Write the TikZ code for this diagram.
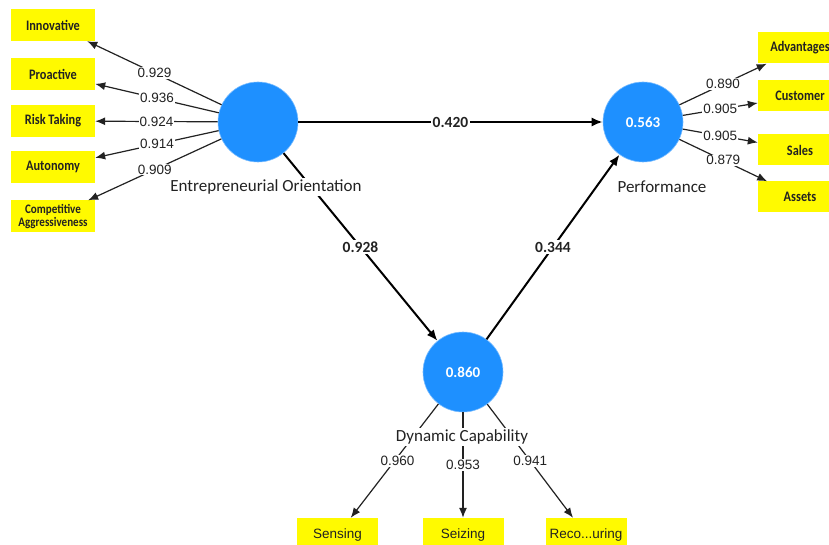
\documentclass[tikz,border=0pt]{standalone}
\usepackage{fontspec}
\setmainfont{Carlito}
\newfontfamily\boxfont[FakeStretch=0.85]{Carlito}
\newfontfamily\numfont{Liberation Sans}
\usetikzlibrary{arrows.meta}
\definecolor{lvblue}{RGB}{30,144,255}
\definecolor{boxyellow}{RGB}{255,250,0}
\definecolor{ink}{RGB}{34,34,34}
\tikzset{
  latent/.style={circle, fill=lvblue, draw=lvblue!60!white, line width=0.6pt, minimum size=80pt, inner sep=0pt, text=white, font=\fontsize{15}{15}\selectfont\bfseries},
  indbox/.style={rectangle, fill=boxyellow, inner sep=0pt, text=ink, font=\boxfont\fontsize{14.5}{14.5}\selectfont\bfseries},
  leftbox/.style={indbox, minimum width=84pt, minimum height=32pt},
  rightbox/.style={indbox, minimum width=84pt, minimum height=31pt},
  botbox/.style={rectangle, fill=boxyellow, inner sep=0pt, minimum width=81pt, minimum height=34pt, text=ink, font=\numfont\fontsize{13.5}{13.5}\selectfont},
  loading/.style={draw=ink, line width=1.2pt, -{Latex[length=10pt,width=8pt]}},
  mainpath/.style={draw=black, line width=2pt, -{Latex[length=11pt,width=9pt]}},
  lval/.style={fill=white, inner sep=1pt, text=ink, font=\numfont\fontsize{13.5}{13.5}\selectfont},
  pval/.style={fill=white, inner sep=1.5pt, text=ink, font=\fontsize{15.5}{15.5}\selectfont\bfseries},
  lvname/.style={fill=white, inner sep=2pt, text=ink, font=\fontsize{17}{17}\selectfont},
}
\begin{document}
\begin{tikzpicture}[x=1pt,y=-1pt]
\useasboundingbox (0,0) rectangle (829,545);
\fill[white] (0,0) rectangle (829,545);
\clip (0,0) rectangle (829,545);
% latent variables
\node[latent] (EO) at (258,122) {};
\node[latent] (PF) at (643,122) {0.563};
\node[latent] (DC) at (463,372) {0.860};
% left indicators
\node[leftbox] (inn) at (53,25) {Innovative};
\node[leftbox] (pro) at (53,74) {Proactive};
\node[leftbox] (risk) at (53,121) {Risk Taking};
\node[leftbox] (aut) at (53,167) {Autonomy};
\node[leftbox, align=center, font=\boxfont\fontsize{13}{12.5}\selectfont\bfseries] (comp) at (53,216.5) {Competitive\\Aggressiveness};
% right indicators
\node[rightbox] (adv) at (800,48) {Advantages};
\node[rightbox] (cus) at (800,96) {Customer};
\node[rightbox] (sal) at (800,150) {Sales};
\node[rightbox] (ass) at (800,197) {Assets};
% bottom indicators
\node[botbox] (sens) at (337.5,535) {Sensing};
\node[botbox] (seiz) at (463,535) {Seizing};
\node[botbox] (reco) at (586,535) {Reco...uring};
% loadings EO
\draw[loading] (EO) -- node[lval] {0.929} (inn);
\draw[loading] (EO) -- node[lval] {0.936} (pro);
\draw[loading] (EO) -- node[lval] {0.924} (risk);
\draw[loading] (EO) -- node[lval] {0.914} (aut);
\draw[loading] (EO) -- node[lval] {0.909} (comp);
% loadings PF
\draw[loading] (PF) -- node[lval] {0.890} (adv);
\draw[loading] (PF) -- node[lval] {0.905} (cus);
\draw[loading] (PF) -- node[lval] {0.905} (sal);
\draw[loading] (PF) -- node[lval] {0.879} (ass);
% loadings DC
\draw[loading] (DC) -- node[lval, xshift=3pt] {0.960} (sens);
\draw[loading] (DC) -- node[lval] {0.953} (seiz);
\draw[loading] (DC) -- node[lval] {0.941} (reco);
% structural paths
\draw[mainpath] (EO) -- node[pval] {0.420} (PF);
\draw[mainpath] (EO) -- node[pval] {0.928} (DC);
\draw[mainpath] (DC) -- node[pval] {0.344} (PF);
% latent names
\node[lvname] (lEO) at (266,187) {Entrepreneurial Orientation};
\node[lvname] (lPF) at (662,187) {Performance};
\node[lvname] (lDC) at (462,437) {Dynamic Capability};
\end{tikzpicture}
\end{document}
